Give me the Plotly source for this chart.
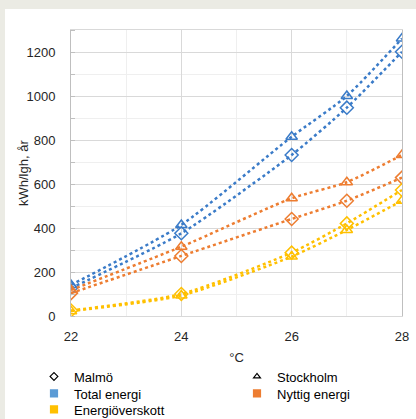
import plotly.graph_objects as go

temps = [22, 24, 26, 27, 28]
total_malmo = [127, 376, 732, 947, 1201]
total_sthlm = [141, 414, 815, 1000, 1261]
nyttig_malmo = [104, 273, 441, 524, 629]
nyttig_sthlm = [118, 315, 535, 608, 732]
over_malmo = [25, 100, 288, 421, 573]
over_sthlm = [22, 93, 270, 391, 524]

x_ticks = [22, 24, 26, 28]
y_ticks = [0, 200, 400, 600, 800, 1000, 1200]

BLUE = "#3A7BC8"
ORANGE = "#ED7D31"
YELLOW = "#FFC000"
FONT = "Liberation Sans, Arial, sans-serif"

fig = go.Figure()

series = [
    (total_malmo, BLUE, "diamond-open"),
    (total_sthlm, BLUE, "triangle-up-open"),
    (nyttig_malmo, ORANGE, "diamond-open"),
    (nyttig_sthlm, ORANGE, "triangle-up-open"),
    (over_malmo, YELLOW, "diamond-open"),
    (over_sthlm, YELLOW, "triangle-up-open"),
]
for vals, col, sym in series:
    fig.add_trace(go.Scatter(
        x=temps, y=vals, mode="lines+markers", showlegend=False,
        line=dict(color=col, width=2.5, dash="dot", shape="spline", smoothing=0.6),
        marker=dict(symbol=sym, size=10, color=col, line=dict(color=col, width=1.5)),
        hoverinfo="skip",
    ))

# (name, symbol, colour, size, page-x of text start, page-y of row centre)
legend_items = [
    ("Malmö", "diamond-open", "#000000", 6, 72, 376),
    ("Stockholm", "triangle-up-open", "#000000", 6, 275, 376),
    ("Total energi", "square", "#5B9BD5", 7, 72, 393),
    ("Nyttig energi", "square", ORANGE, 7, 275, 393),
    ("Energiöverskott", "square", YELLOW, 7, 72, 409),
]

# figure is placed at page offset (5, 9); plot area in page px: x 71..402, y 30..316
OX, OY = 5, 9
W, H = 416 - OX, 419 - OY
L, R, T, B = 71 - OX, 402 - OX, 30 - OY, 316 - OY
def px(p):
    return (p - OX - L) / (R - L)
def py(p):
    return (B - (p - OY)) / (B - T)

legends = {}
for i, (name, sym, col, size, tx, ty) in enumerate(legend_items):
    key = "legend" if i == 0 else "legend%d" % (i + 1)
    fig.add_trace(go.Scatter(
        x=[None], y=[None], mode="markers", name=name, legend=key,
        marker=dict(symbol=sym, size=size, color=col, line=dict(color=col, width=1.2)),
    ))
    legends[key] = dict(
        x=px(tx - 38), y=py(ty - 14.5), xanchor="left", yanchor="top",
        orientation="v",
        font=dict(family=FONT, size=13, color="#000000"),
        itemclick=False, itemdoubleclick=False,
        bgcolor="rgba(0,0,0,0)", borderwidth=0,
    )

fig.update_layout(
    width=W, height=H,
    margin=dict(l=L, r=W - R, t=T, b=H - B, pad=0, autoexpand=False),
    paper_bgcolor="white", plot_bgcolor="white",
    font=dict(family=FONT, size=13, color="#262626"),
    showlegend=True,
    **legends,
    annotations=[dict(
        text="kWh/lgh, år", textangle=-90, xref="paper", yref="paper",
        x=px(23), y=py(173), xanchor="center", yanchor="middle", showarrow=False,
        font=dict(family=FONT, size=13, color="#262626"),
    )],
    xaxis=dict(
        range=[22, 28], tickvals=x_ticks, ticktext=[str(v) for v in x_ticks],
        showgrid=True, gridcolor="#D9D9D9", gridwidth=1,
        minor=dict(dtick=1, showgrid=True, gridcolor="#EFEFEF", gridwidth=1),
        showline=True, linecolor="#D9D9D9", linewidth=1, mirror=True,
        zeroline=False, ticks="", ticklabelstandoff=8,
        title=dict(text="°C", standoff=10, font=dict(family=FONT, size=13)),
    ),
    yaxis=dict(
        range=[0, 1300], tickvals=y_ticks, ticktext=[str(v) for v in y_ticks],
        showgrid=True, gridcolor="#D9D9D9", gridwidth=1,
        minor=dict(dtick=100, showgrid=True, gridcolor="#EFEFEF", gridwidth=1,
                   ticks="inside", ticklen=4, tickcolor="#BFBFBF"),
        showline=True, linecolor="#BFBFBF", linewidth=1, mirror=True,
        zeroline=False, ticks="", ticklabelstandoff=12,
    ),
)

post = (
    "document.body.style.margin='%dpx 0 0 %dpx';"
    "document.body.style.background='#EBEBE4';"
    "document.documentElement.style.background='#EBEBE4';"
    "document.body.style.overflow='hidden';" % (OY, OX)
)

fig.write_html("out.html", post_script=post)
